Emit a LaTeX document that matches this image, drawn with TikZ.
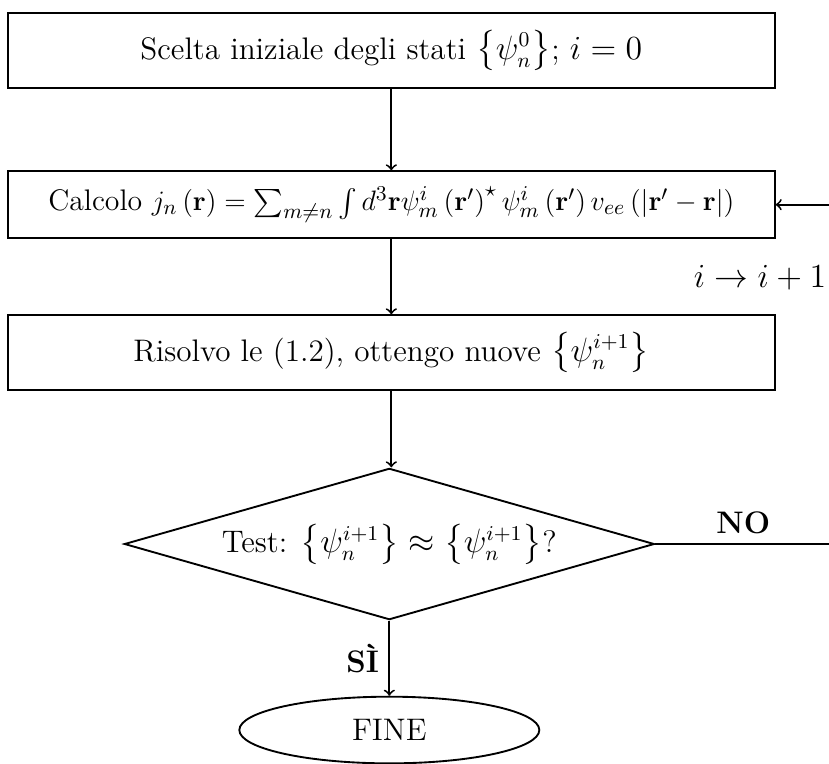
\documentclass[tikz,border=0pt,12pt]{standalone}
\usepackage{exscale}
\usetikzlibrary{shapes.geometric,positioning}

\tikzset{
    every node/.style={font=\fontsize{13.3pt}{16pt}\selectfont},
    blocco/.style={draw, thick, rectangle, inner xsep=2pt, minimum width=11.5cm, minimum height=1.12cm},
    decisione/.style={draw, thick, diamond, aspect=3.5, inner sep=0pt, minimum width=7.95cm, minimum height=2.27cm},
    termine/.style={draw, thick, ellipse, minimum width=4.5cm, minimum height=1cm},
    freccia/.style={->, thick}
}

\begin{document}
\begin{tikzpicture}
    \useasboundingbox (0,0) rectangle (12.435,-11.445);
    \node[blocco] (inizio) at (5.87,-0.76) {Scelta iniziale degli stati $\bigl\{\psi_n^0\bigr\}$; $i=0$};
    \node[blocco, minimum height=1cm, inner xsep=1pt, font=\fontsize{12.7pt}{15pt}\selectfont] (calcolo) at (5.87,-3.07) {Calcolo $j_n\left(\mathbf{r}\right) = \sum_{m\neq n}\int d^3\mathbf{r}\psi_m^i\left(\mathbf{r}'\right)^\star \psi_m^i\left(\mathbf{r}'\right) v_{ee}\left(\left|\mathbf{r}'-\mathbf{r}\right|\right)$};
    \node[blocco] (risolvo) at (5.87,-5.29) {Risolvo le (1.2), ottengo nuove $\bigl\{\psi_n^{i+1}\bigr\}$};
    \node[decisione] (test) at (5.84,-8.16) {Test: $\bigl\{\psi_n^{i+1}\bigr\} \approx \bigl\{\psi_n^{i+1}\bigr\}$?};
    \node[termine] (fine) at (5.84,-10.95) {FINE};
    \coordinate (ritorno) at (12.47,-8.16);
    \draw[freccia] (inizio) -- (calcolo);
    \draw[freccia] (calcolo) -- (risolvo);
    \draw[freccia] (risolvo) -- (risolvo |- test.north);
    \draw[freccia] (test) -- node[left] {\textbf{SÌ}} (fine);
    \draw[freccia] (test.east) -- node[above] {\textbf{NO}} (ritorno) |- (calcolo.east);
    \node[anchor=east, inner sep=1pt] (incremento) at (12.435,-4.17) {$i \rightarrow i+1$};
\end{tikzpicture}
\end{document}
